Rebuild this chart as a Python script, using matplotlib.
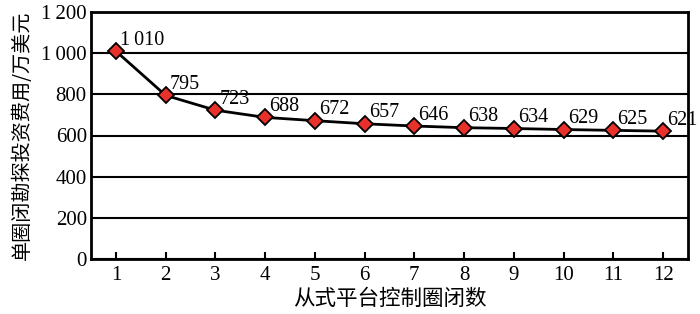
import matplotlib.pyplot as plt

plt.rcParams['font.family'] = ['Liberation Serif', 'Noto Sans CJK SC', 'DejaVu Sans']

# data
n_traps = [1, 2, 3, 4, 5, 6, 7, 8, 9, 10, 11, 12]
cost = [1010, 795, 723, 688, 672, 657, 646, 638, 634, 629, 625, 621]
cost_labels = ['1\u2009010', '795', '723', '688', '672', '657', '646', '638',
               '634', '629', '625', '621']
y_ticks = [0, 200, 400, 600, 800, 1000, 1200]
y_tick_labels = ['0', '200', '400', '600', '800', '1\u2009000', '1\u2009200']

fig = plt.figure(figsize=(7, 3.14), dpi=100)
ax = fig.add_axes([91 / 700, 55 / 314, 597 / 700, 247 / 314])

ax.plot(n_traps, cost, color='black', lw=2, marker='D', ms=8,
        mfc='#e8312a', mec='black', mew=1.3, zorder=3)
for x, y, s in zip(n_traps, cost, cost_labels):
    ax.annotate(s, (x, y), xytext=(3, 1), textcoords='offset points',
                ha='left', va='bottom', fontsize=14.5)

ax.set_xlim(0.5, 12.5)
ax.set_ylim(0, 1200)
ax.set_xticks(n_traps)
ax.set_yticks(y_ticks)
ax.set_yticklabels(y_tick_labels)
ax.grid(axis='y', color='black', lw=1.5)
ax.set_axisbelow(True)
ax.tick_params(axis='x', direction='in', length=5, width=1.5, labelsize=15, pad=5)
ax.tick_params(axis='y', length=0, labelsize=15, pad=3)
for sp in ax.spines.values():
    sp.set_linewidth(2)

ax.set_xlabel('从式平台控制圈闭数', fontsize=15.5, family=['Noto Sans CJK SC'], labelpad=2)
ax.set_ylabel('单圈闭勘探投资费用/万美元', fontsize=14.5, family=['Noto Sans CJK SC'])
ax.yaxis.set_label_coords(-58 / 597, 0.5)

fig.savefig('out.png', dpi=100)
